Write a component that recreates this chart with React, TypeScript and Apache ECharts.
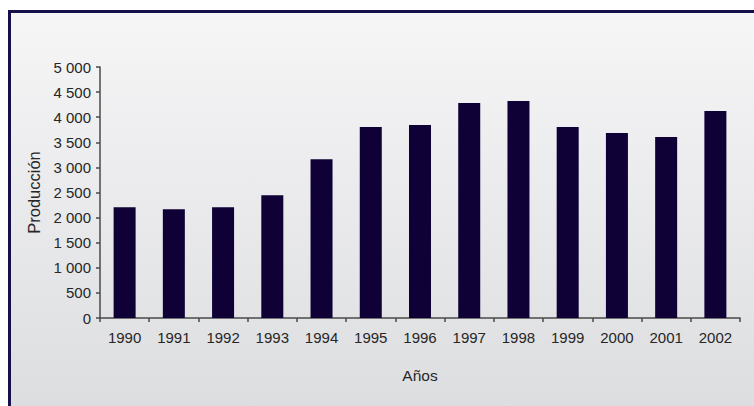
import React, { useEffect, useRef } from "react";
import * as echarts from "echarts";

const years = ["1990", "1991", "1992", "1993", "1994", "1995", "1996", "1997", "1998", "1999", "2000", "2001", "2002"];
const produccion = [2205, 2165, 2205, 2445, 3160, 3805, 3845, 4285, 4325, 3805, 3685, 3605, 4125];
const yTicks = { min: 0, max: 5000, interval: 500 };

const fmtMiles = (v: number) => {
  const s = String(Math.round(v));
  return s.replace(/\B(?=(\d{3})+(?!\d))/g, " ");
};

export default function App() {
  const ref = useRef<HTMLDivElement>(null);

  useEffect(() => {
    if (!ref.current) return;
    const chart = echarts.init(ref.current, undefined, { renderer: "svg" });
    const font = "Liberation Sans, Arial, sans-serif";
    const textColor = "#262626";
    chart.setOption({
      animation: false,
      graphic: [
        {
          type: "rect",
          z: -10,
          silent: true,
          shape: { x: 9.5, y: 11.5, width: 800, height: 500 },
          style: {
            fill: new echarts.graphic.LinearGradient(0, 0, 0, 1, [
              { offset: 0, color: "#f6f6f7" },
              { offset: 1, color: "#d6d7da" },
            ]),
            stroke: "#15104a",
            lineWidth: 3,
          },
        },
      ],
      grid: { left: 100, right: 14, top: 67, bottom: 88, containLabel: false },
      xAxis: {
        type: "category",
        data: years,
        boundaryGap: true,
        name: "Años",
        nameLocation: "middle",
        nameGap: 49,
        nameTextStyle: { fontFamily: font, fontSize: 15.5, color: textColor },
        axisLine: { lineStyle: { color: "#4a4a4a", width: 1.5 } },
        axisTick: { show: true, alignWithLabel: false, length: 4, inside: false, lineStyle: { color: "#4a4a4a", width: 1.5 } },
        axisLabel: { fontFamily: font, fontSize: 15, color: textColor, margin: 12, interval: 0 },
      },
      yAxis: {
        type: "value",
        min: yTicks.min,
        max: yTicks.max,
        interval: yTicks.interval,
        name: "Producción",
        nameLocation: "middle",
        nameGap: 55,
        nameRotate: 90,
        nameTextStyle: { fontFamily: font, fontSize: 16.5, color: textColor },
        axisLine: { show: true, lineStyle: { color: "#4a4a4a", width: 1.5 } },
        axisTick: { show: true, length: 4, lineStyle: { color: "#4a4a4a", width: 1.5 } },
        splitLine: { show: false },
        axisLabel: { fontFamily: font, fontSize: 15, color: textColor, margin: 9, formatter: fmtMiles },
      },
      series: [
        {
          type: "bar",
          data: produccion,
          barWidth: 22,
          itemStyle: { color: "#0f0036" },
        },
      ],
    });
    return () => chart.dispose();
  }, []);

  return (
    <div
      ref={ref}
      style={{ position: "fixed", left: 0, top: 0, width: 754, height: 406, background: "#fff" }}
    />
  );
}
